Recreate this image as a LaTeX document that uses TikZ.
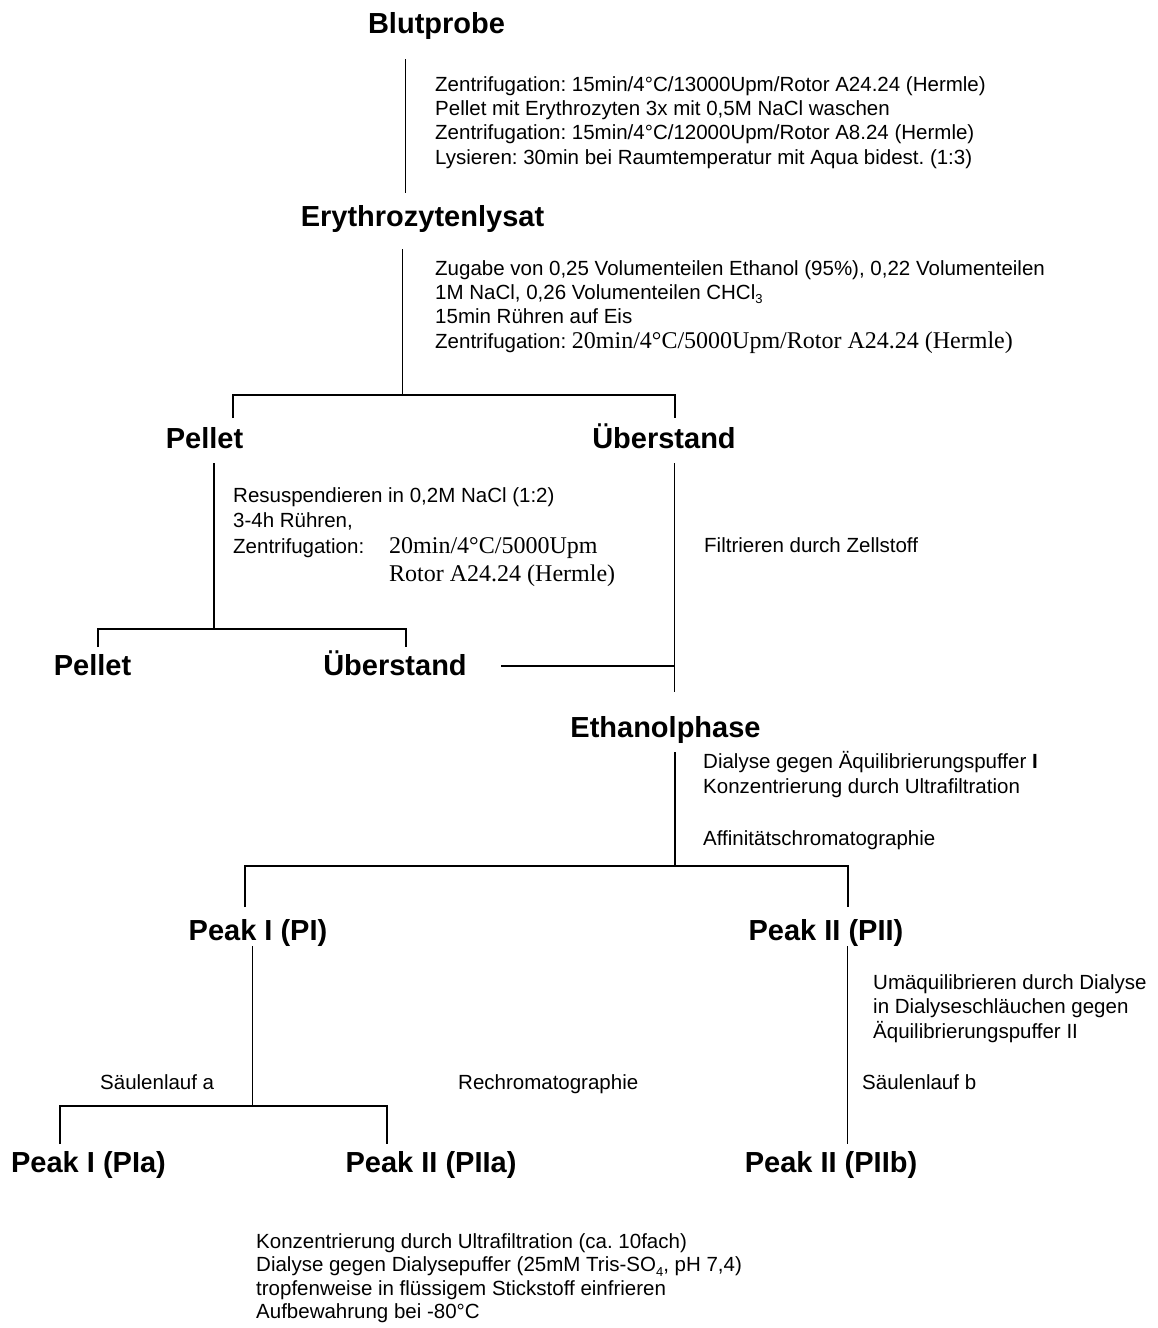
\documentclass[tikz,border=0pt]{standalone}
\usepackage{fontspec}
\setmainfont{Liberation Sans}
\newfontfamily\tms{Liberation Serif}
\newcommand\subs[1]{\raisebox{-0.22em}{\fontsize{13}{13}\selectfont #1}}
\frenchspacing
\begin{document}
\frenchspacing
\begin{tikzpicture}[x=1pt,y=-1pt,
  hd/.style={font=\fontsize{29}{34}\selectfont\bfseries, inner sep=0pt, anchor=base},
  bd/.style={font=\fontsize{20.5}{24.5}\selectfont\frenchspacing, inner sep=0pt, anchor=base west},
  tm/.style={font=\fontsize{24}{28}\selectfont\tms\frenchspacing, inner sep=0pt, anchor=base west},
  ln/.style={line width=1.5pt}]
\useasboundingbox (0,0) rectangle (1157,1328);

% headings
\node[hd] (blut) at (436.5,33.5) {Blutprobe};
\node[hd] (ery)  at (422.5,226) {Erythrozytenlysat};
\node[hd] (pel1) at (204.5,448) {Pellet};
\node[hd] (ueb1) at (664,448) {Überstand};
\node[hd] (pel2) at (92.5,675) {Pellet};
\node[hd] (ueb2) at (395,675) {Überstand};
\node[hd] (eth)  at (665.5,737) {Ethanolphase};
\node[hd] (pI)   at (258,940) {Peak I (PI)};
\node[hd] (pII)  at (826,940) {Peak II (PII)};
\node[hd] (pIa)  at (88.5,1172) {Peak I (PIa)};
\node[hd] (pIIa) at (431,1172) {Peak II (PIIa)};
\node[hd] (pIIb) at (831,1172) {Peak II (PIIb)};

% step texts
\node[bd] (t1a) at (435,91) {Zentrifugation: 15min/4°C/13000Upm/Rotor A24.24 (Hermle)};
\node[bd] (t1b) at (435,115.3) {Pellet mit Erythrozyten 3x mit 0,5M NaCl waschen};
\node[bd] (t1c) at (435,139.6) {Zentrifugation: 15min/4°C/12000Upm/Rotor A8.24 (Hermle)};
\node[bd] (t1d) at (435,164) {Lysieren: 30min bei Raumtemperatur mit Aqua bidest. (1:3)};

\node[bd] (t2a) at (435,275) {Zugabe von 0,25 Volumenteilen Ethanol (95\%), 0,22 Volumenteilen};
\node[bd] (t2b) at (435,299) {1M NaCl, 0,26 Volumenteilen CHCl\subs{3}};
\node[bd] (t2c) at (435,323) {15min Rühren auf Eis};
\node[bd] (t2d) at (435,348) {Zentrifugation: {\tms\fontsize{24}{28}\selectfont 20min/4°C/5000Upm/Rotor A24.24 (Hermle)}};

\node[bd] (t3a) at (233,502) {Resuspendieren in 0,2M NaCl (1:2)};
\node[bd] (t3b) at (233,527) {3-4h Rühren,};
\node[bd] (t3c) at (233,553) {Zentrifugation:};
\node[tm] (t3d) at (389,553) {20min/4°C/5000Upm};
\node[tm] (t3e) at (389,581) {Rotor A24.24 (Hermle)};

\node[bd] (t4) at (704,552) {Filtrieren durch Zellstoff};

\node[bd] (t5a) at (703,768) {Dialyse gegen Äquilibrierungspuffer \textbf{I}};
\node[bd] (t5b) at (703,793) {Konzentrierung durch Ultrafiltration};
\node[bd] (t5c) at (703,845) {Affinitätschromatographie};

\node[bd] (t6a) at (873,989) {Umäquilibrieren durch Dialyse};
\node[bd] (t6b) at (873,1013.5) {in Dialyseschläuchen gegen};
\node[bd] (t6c) at (873,1038) {Äquilibrierungspuffer II};

\node[bd] (t7a) at (100,1089) {Säulenlauf a};
\node[bd] (t7b) at (458,1089) {Rechromatographie};
\node[bd] (t7c) at (862,1089) {Säulenlauf b};

\node[bd] (t8a) at (256,1248) {Konzentrierung durch Ultrafiltration (ca. 10fach)};
\node[bd] (t8b) at (256,1271.5) {Dialyse gegen Dialysepuffer (25mM Tris-SO\subs{4}, pH 7,4)};
\node[bd] (t8c) at (256,1295) {tropfenweise in flüssigem Stickstoff einfrieren};
\node[bd] (t8d) at (256,1318) {Aufbewahrung bei -80°C};

% connector points
\coordinate (a1) at (405.5,59);  \coordinate (a2) at (405.5,193);
\coordinate (b1) at (402.5,249); \coordinate (b2) at (402.5,395);
\coordinate (b3) at (233,395);   \coordinate (b4) at (675,395);
\coordinate (b5) at (233,418);   \coordinate (b6) at (675,418);
\coordinate (c1) at (214,463);   \coordinate (c2) at (214,629);
\coordinate (c3) at (98,629);    \coordinate (c4) at (406,629);
\coordinate (c5) at (98,647);    \coordinate (c6) at (406,647);
\coordinate (d1) at (674.5,463); \coordinate (d2) at (674.5,692);
\coordinate (d3) at (501,666);   \coordinate (d4) at (674.5,666);
\coordinate (e1) at (675,752);   \coordinate (e2) at (675,866);
\coordinate (e3) at (245,866);   \coordinate (e4) at (848,866);
\coordinate (e5) at (245,907);   \coordinate (e6) at (848,907);
\coordinate (f1) at (252.5,946); \coordinate (f2) at (252.5,1106);
\coordinate (f3) at (60,1106);   \coordinate (f4) at (387,1106);
\coordinate (f5) at (60,1144);   \coordinate (f6) at (387,1144);
\coordinate (g1) at (847.5,946); \coordinate (g2) at (847.5,1144);

% connectors
\draw[ln] (a1) -- (a2);
\draw[ln] (b1) -- (b2);
\draw[ln] (b5) -- (b3) -- (b4) -- (b6);
\draw[ln] (c1) -- (c2);
\draw[ln] (c5) -- (c3) -- (c4) -- (c6);
\draw[ln] (d1) -- (d2);
\draw[ln] (d3) -- (d4);
\draw[ln] (e1) -- (e2);
\draw[ln] (e5) -- (e3) -- (e4) -- (e6);
\draw[ln] (f1) -- (f2);
\draw[ln] (f5) -- (f3) -- (f4) -- (f6);
\draw[ln] (g1) -- (g2);
\end{tikzpicture}
\end{document}
